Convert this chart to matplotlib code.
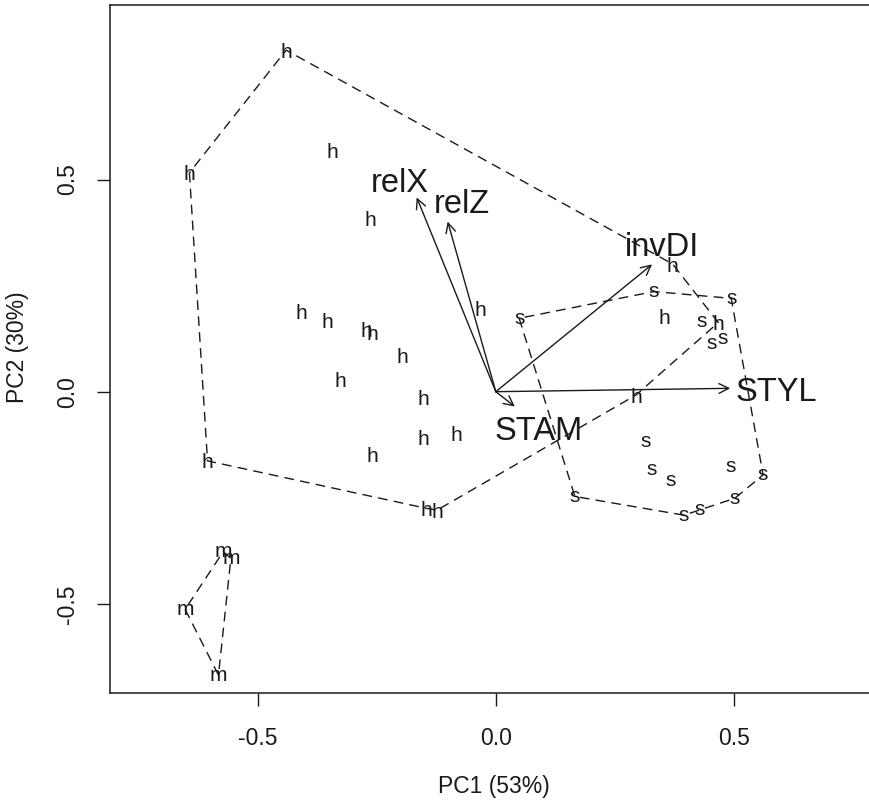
import matplotlib
matplotlib.use("Agg")
import matplotlib.pyplot as plt
import matplotlib.transforms as mtransforms
from matplotlib.patches import FancyArrowPatch, ArrowStyle

plt.rcParams['font.family'] = ['Liberation Sans', 'DejaVu Sans']

# ---- data ----
h_x = [-0.440, -0.343, -0.643, -0.264, -0.033, -0.409, -0.354, -0.271, -0.260,
       -0.197, -0.326, -0.152, -0.151, -0.082, -0.260, -0.605, -0.145, -0.123,
       0.371, 0.353, 0.467, 0.294]
h_y = [0.805, 0.568, 0.516, 0.409, 0.197, 0.189, 0.167, 0.147, 0.139,
       0.0865, 0.030, -0.013, -0.108, -0.098, -0.148, -0.163, -0.275, -0.279,
       0.301, 0.177, 0.163, -0.008]

s_x = [0.049, 0.332, 0.494, 0.432, 0.477, 0.453, 0.315, 0.327, 0.366, 0.493,
       0.561, 0.502, 0.427, 0.395, 0.166]
s_y = [0.173, 0.236, 0.220, 0.165, 0.126, 0.114, -0.118, -0.183, -0.210, -0.177,
       -0.196, -0.251, -0.277, -0.291, -0.247]

m_x = [-0.572, -0.556, -0.652, -0.582]
m_y = [-0.377, -0.393, -0.513, -0.668]

groups = ['h', 's', 'm']

var_names = ['relX', 'relZ', 'invDI', 'STYL', 'STAM']
arrow_x = [-0.166, -0.101, 0.328, 0.492, 0.040]
arrow_y = [0.458, 0.401, 0.300, 0.008, -0.035]
label_x = [-0.201, -0.072, 0.348, 0.589, 0.090]
label_y = [0.499, 0.450, 0.348, 0.006, -0.086]

x_ticks = [-0.5, 0.0, 0.5]
y_ticks = [-0.5, 0.0, 0.5]
x_label = 'PC1 (53%)'
y_label = 'PC2 (30%)'


def convex_hull(xs, ys):
    pts = sorted(set(zip(xs, ys)))
    if len(pts) <= 2:
        return pts

    def cross(o, a, b):
        return (a[0] - o[0]) * (b[1] - o[1]) - (a[1] - o[1]) * (b[0] - o[0])
    lower = []
    for p in pts:
        while len(lower) >= 2 and cross(lower[-2], lower[-1], p) <= 0:
            lower.pop()
        lower.append(p)
    upper = []
    for p in reversed(pts):
        while len(upper) >= 2 and cross(upper[-2], upper[-1], p) <= 0:
            upper.pop()
        upper.append(p)
    return lower[:-1] + upper[:-1]


W, H = 870, 802
fig = plt.figure(figsize=(W / 100, H / 100), dpi=100)
ax_left, ax_right, ax_bottom, ax_top = 110, 878, 693, 5
ax = fig.add_axes([ax_left / W, (H - ax_bottom) / H,
                   (ax_right - ax_left) / W, (ax_bottom - ax_top) / H])

x0px, xscale = 495.8, 476.5
y0px, yscale = 391.7, 424.3
ax.set_xlim((ax_left - x0px) / xscale, (ax_right - x0px) / xscale)
ax.set_ylim((y0px - ax_bottom) / yscale, (y0px - ax_top) / yscale)

ink = '#1a1a1a'
pt_fs = 15
lab_fs = 23.5
dash = (0, (7.0, 4.5))

# group letters, drawn so the letter's visual centre sits on the point
for g, xs, ys in [('h', h_x, h_y), ('s', s_x, s_y), ('m', m_x, m_y)]:
    half = 0.365 * pt_fs if g == 'h' else 0.26 * pt_fs
    tr = mtransforms.offset_copy(ax.transData, fig=fig, x=0, y=-half, units='points')
    for x, y in zip(xs, ys):
        ax.text(x, y, g, transform=tr, ha='center', va='baseline',
                fontsize=pt_fs, color=ink)
    hull = convex_hull(xs, ys)
    hx = [p[0] for p in hull] + [hull[0][0]]
    hy = [p[1] for p in hull] + [hull[0][1]]
    ax.plot(hx, hy, color=ink, lw=1.0, linestyle=dash)

# loading arrows
for name, ax_, ay_, lx, ly in zip(var_names, arrow_x, arrow_y, label_x, label_y):
    arr = FancyArrowPatch((0, 0), (ax_, ay_),
                          arrowstyle=ArrowStyle('->', head_length=0.5, head_width=0.25),
                          mutation_scale=14, shrinkA=0, shrinkB=0,
                          color=ink, lw=1.0)
    ax.add_patch(arr)
    half = 0.36 * lab_fs
    tr = mtransforms.offset_copy(ax.transData, fig=fig, x=0, y=-half, units='points')
    ax.text(lx, ly, name, transform=tr, ha='center', va='baseline',
            fontsize=lab_fs, color=ink)

ax.set_xticks(x_ticks)
ax.set_yticks(y_ticks)
ax.set_xticklabels([f'{v:.1f}' for v in x_ticks])
ax.set_yticklabels([f'{v:.1f}' for v in y_ticks], rotation=90, va='center')
ax.tick_params(axis='both', direction='out', length=9.4, width=1.0,
               colors=ink, labelsize=16.5)
ax.tick_params(axis='x', pad=15)
ax.tick_params(axis='y', pad=13)
for sp in ax.spines.values():
    sp.set_linewidth(1.1)
    sp.set_color(ink)
ax.spines['right'].set_visible(False)

fig.text(494 / W, 1 - 787 / H, x_label, ha='center', va='center',
         fontsize=16.5, color=ink)
fig.text(18 / W, 1 - 347 / H, y_label, ha='center', va='center',
         fontsize=16.5, color=ink, rotation=90)

fig.savefig('out.png', dpi=100, facecolor='white')
